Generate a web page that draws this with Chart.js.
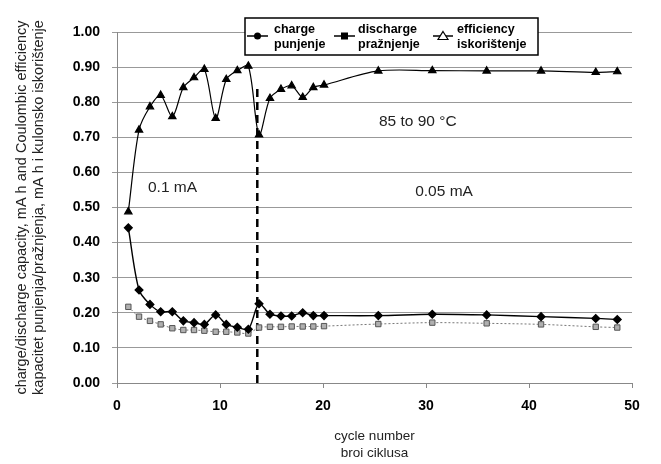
<!DOCTYPE html>
<html>
<head>
<meta charset="utf-8">
<script src="https://cdn.jsdelivr.net/npm/chart.js@4/dist/chart.umd.min.js"></script>
<style>
html,body{margin:0;padding:0;background:#fff;}
#wrap{width:661px;height:464px;position:relative;}
</style>
</head>
<body>
<div id="wrap"><canvas id="c" width="661" height="464"></canvas></div>
<script>
const cycles = [1.1,2.14,3.2,4.24,5.37,6.44,7.48,8.48,9.58,10.61,11.68,12.75,13.79,14.85,15.92,16.96,18.03,19.06,20.1,25.37,30.61,35.89,41.17,46.48,48.57];
const charge = [0.442,0.265,0.224,0.203,0.203,0.177,0.172,0.167,0.194,0.167,0.159,0.153,0.226,0.196,0.191,0.191,0.200,0.192,0.192,0.192,0.196,0.194,0.189,0.184,0.181];
const discharge = [0.217,0.189,0.177,0.167,0.156,0.151,0.151,0.149,0.146,0.146,0.144,0.141,0.158,0.160,0.160,0.161,0.161,0.161,0.162,0.168,0.172,0.170,0.167,0.160,0.158];
const efficiency = [0.488,0.721,0.787,0.820,0.759,0.842,0.870,0.894,0.754,0.865,0.890,0.903,0.707,0.811,0.837,0.847,0.814,0.842,0.849,0.889,0.890,0.889,0.889,0.885,0.887];
const dividerX = [13.62,13.62];
const dividerY = [0,0.84];
const legendLabels = [["charge","punjenje"],["discharge","pražnjenje"],["efficiency","iskorištenje"]];
const yTitle = ["charge/discharge capacity, mA h and Coulombic efficiency","kapacitet punjenja/pražnjenja, mA h i kulonsko iskorištenje"];
const xTitle = ["cycle number","broi ciklusa"];
const notes = [{text:"0.1 mA",x:5.39,y:0.556},{text:"85 to 90 °C",x:29.2,y:0.744},{text:"0.05 mA",x:31.75,y:0.544}];

const pts = (xs, ys) => xs.map((x,i)=>({x:x,y:ys[i]}));
const FONT = "'Liberation Sans', Arial, sans-serif";

const notesPlugin = {
  id:'notes',
  afterDatasetsDraw(chart){
    const ctx = chart.ctx, xs = chart.scales.x, ys = chart.scales.y;
    ctx.save();
    ctx.fillStyle = '#222';
    ctx.font = "15.5px " + FONT;
    ctx.textAlign = 'center';
    ctx.textBaseline = 'middle';
    notes.forEach(n => ctx.fillText(n.text, xs.getPixelForValue(n.x), ys.getPixelForValue(n.y)));
    ctx.restore();
  },
  afterDraw(chart){
    const ctx = chart.ctx;
    ctx.save();
    const bx = 245, by = 18, bw = 293, bh = 37;
    ctx.fillStyle = '#fff';
    ctx.fillRect(bx,by,bw,bh);
    ctx.strokeStyle = '#000';
    ctx.lineWidth = 1.5;
    ctx.strokeRect(bx,by,bw,bh);
    const sy = by + 18;
    const entries = [{x0:247,x1:268,t:274,m:'circle'},{x0:334,x1:355,t:358,m:'square'},{x0:433,x1:453,t:457,m:'triangle'}];
    entries.forEach((e,i)=>{
      ctx.strokeStyle='#000'; ctx.lineWidth=1.5;
      ctx.beginPath(); ctx.moveTo(e.x0,sy); ctx.lineTo(e.x1,sy); ctx.stroke();
      const cx=(e.x0+e.x1)/2;
      ctx.fillStyle='#000';
      if(e.m==='circle'){ctx.beginPath();ctx.arc(cx,sy,3.5,0,Math.PI*2);ctx.fill();}
      else if(e.m==='square'){ctx.fillRect(cx-3.5,sy-3.5,7,7);}
      else {ctx.fillStyle='#fff';ctx.lineWidth=1.2;ctx.beginPath();ctx.moveTo(cx,sy-4.5);ctx.lineTo(cx+5,sy+3.5);ctx.lineTo(cx-5,sy+3.5);ctx.closePath();ctx.fill();ctx.stroke();}
      ctx.fillStyle='#000';
      ctx.font = "bold 12.5px " + FONT;
      ctx.textAlign='left'; ctx.textBaseline='middle';
      ctx.fillText(legendLabels[i][0], e.t, by+12);
      ctx.fillText(legendLabels[i][1], e.t, by+27);
    });
    ctx.restore();
  }
};

new Chart(document.getElementById('c'), {
  type:'scatter',
  data:{
    datasets:[
      {label:'divider', data:pts(dividerX,dividerY), showLine:true, borderColor:'#000', borderWidth:2.5, borderDash:[8,5], pointRadius:0, order:4},
      {label:'discharge', data:pts(cycles,discharge), showLine:true, tension:0.3, borderColor:'#777', borderWidth:1, borderDash:[2,2],
        pointStyle:'rect', pointRadius:3.8, pointBackgroundColor:'#b0b0b0', pointBorderColor:'#555', pointBorderWidth:1, order:3},
      {label:'charge', data:pts(cycles,charge), showLine:true, tension:0.3, borderColor:'#000', borderWidth:1.4,
        pointStyle:'rectRot', pointRadius:3.8, pointBackgroundColor:'#000', pointBorderColor:'#000', order:2},
      {label:'efficiency', data:pts(cycles,efficiency), showLine:true, tension:0.3, borderColor:'#000', borderWidth:1.2,
        pointStyle:'triangle', pointRadius:4.2, pointBackgroundColor:'#000', pointBorderColor:'#000', order:1}
    ]
  },
  options:{
    responsive:false, animation:false, devicePixelRatio:1,
    layout:{padding:{left:4,right:29,top:32,bottom:2}},
    plugins:{legend:{display:false}, tooltip:{enabled:false}},
    scales:{
      x:{type:'linear', min:0, max:50,
        afterFit:s=>{s.height=79;},
        ticks:{stepSize:10, color:'#000', font:{family:FONT, size:14, weight:'bold'}, padding:10, maxRotation:0},
        grid:{display:true, drawOnChartArea:false, drawTicks:true, tickLength:5, color:'#888'},
        border:{display:true, color:'#888', width:1},
        title:{display:true, text:xTitle, color:'#222', font:{family:FONT, size:13.5, lineHeight:1.2}, padding:{top:0,bottom:1}}
      },
      y:{min:0, max:1,
        afterFit:s=>{s.width=113;},
        ticks:{stepSize:0.1, color:'#000', font:{family:FONT, size:14, weight:'bold'}, padding:12, callback:v=>v.toFixed(2)},
        grid:{color:'#999', lineWidth:1, tickLength:5},
        border:{display:true, color:'#888', width:1},
        title:{display:true, text:yTitle, color:'#222', font:{family:FONT, size:14.5, lineHeight:1.15}, padding:{top:9.7,bottom:0}}
      }
    }
  },
  plugins:[notesPlugin]
});
</script>
</body>
</html>
